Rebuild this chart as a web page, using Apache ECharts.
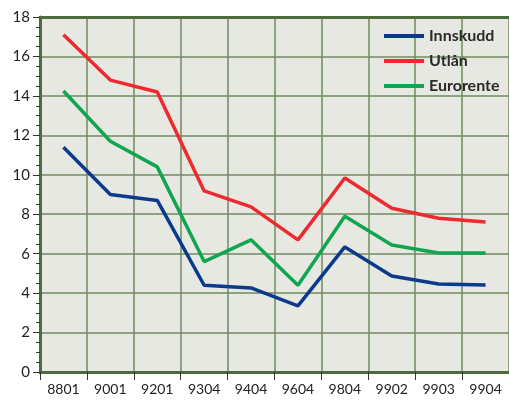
<!DOCTYPE html>
<html>
<head>
<meta charset="utf-8">
<script src="https://cdn.jsdelivr.net/npm/echarts@6/dist/echarts.min.js"></script>
<style>
  html, body { margin: 0; padding: 0; background: #fff; }
  #main { width: 509px; height: 400px; }
</style>
</head>
<body>
<div id="main"></div>
<script>
// kvartal
var categories = ['8801', '9001', '9201', '9304', '9404', '9604', '9804', '9902', '9903', '9904'];
var innskudd  = [11.4, 9.0, 8.7, 4.4, 4.26, 3.35, 6.34, 4.87, 4.46, 4.41];
var utlan     = [17.1, 14.8, 14.2, 9.18, 8.37, 6.7, 9.84, 8.3, 7.8, 7.6];
var eurorente = [14.25, 11.7, 10.4, 5.6, 6.7, 4.4, 7.9, 6.44, 6.03, 6.03];

var gridGreen = '#6f8b5f';
var frameGreen = '#4d6b3c';

var chart = echarts.init(document.getElementById('main'));

function serie(name, data, color) {
    return {
        name: name,
        type: 'line',
        data: data,
        symbol: 'none',
        lineStyle: { color: color, width: 3.5 },
        itemStyle: { color: color }
    };
}

chart.setOption({
    animation: false,
    backgroundColor: '#fff',
    grid: { left: 40, top: 17, width: 472, height: 355, backgroundColor: '#e7e8e1', show: true, borderWidth: 0 },
    legend: {
        orient: 'vertical',
        left: 379,
        top: 23,
        itemWidth: 40,
        itemHeight: 4,
        itemGap: 9,
        icon: 'rect',
        textStyle: { fontFamily: 'Lato', fontWeight: 'bold', fontSize: 16, color: '#2a2a2a' },
        data: ['Innskudd', 'Utlån', 'Eurorente']
    },
    xAxis: [{
        type: 'category',
        data: categories,
        boundaryGap: true,
        axisLine: { lineStyle: { color: frameGreen, width: 3 } },
        axisTick: { show: true, length: 8, lineStyle: { color: '#333', width: 1 } },
        axisLabel: { fontFamily: 'Lato', fontSize: 14, color: '#222', margin: 10 },
        splitLine: { show: true, lineStyle: { color: gridGreen, width: 1.5 } }
    }, {
        type: 'category',
        position: 'top',
        data: categories,
        axisLine: { lineStyle: { color: frameGreen, width: 3 } },
        axisTick: { show: false },
        axisLabel: { show: false }
    }],
    yAxis: {
        type: 'value',
        min: 0,
        max: 18,
        interval: 2,
        axisLine: { show: true, lineStyle: { color: frameGreen, width: 3 } },
        axisTick: { show: true, length: 7, lineStyle: { color: '#333' } },
        minorTick: { show: true, splitNumber: 4, length: 4, lineStyle: { color: '#333' } },
        axisLabel: { fontFamily: 'Lato', fontSize: 15, color: '#222', margin: 10 },
        splitLine: { show: true, lineStyle: { color: gridGreen, width: 1.5 } }
    },
    series: [
        serie('Innskudd', innskudd, '#0b3a8c'),
        serie('Utlån', utlan, '#ee2a2e'),
        serie('Eurorente', eurorente, '#10a550')
    ]
});
</script>
</body>
</html>
